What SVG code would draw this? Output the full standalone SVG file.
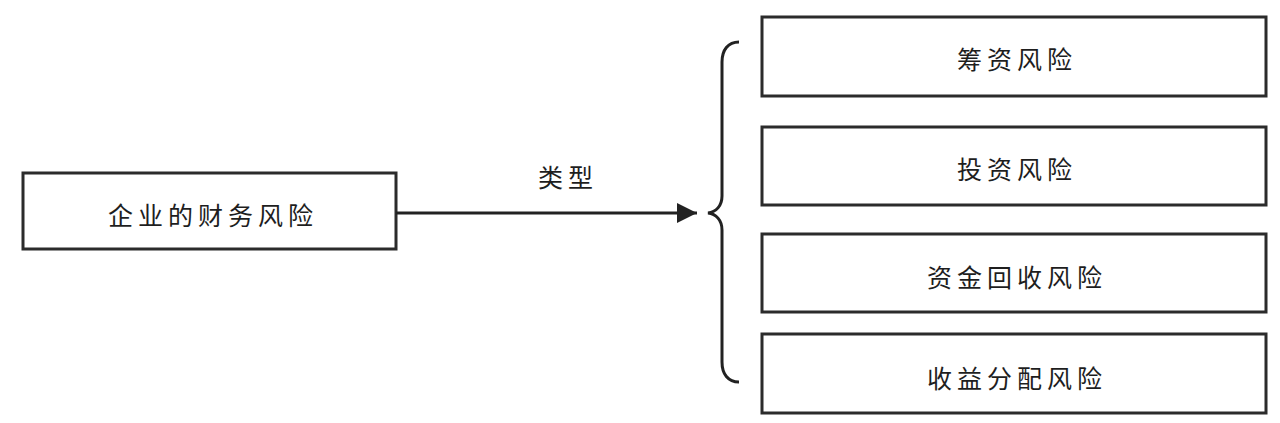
<svg xmlns="http://www.w3.org/2000/svg" width="1280" height="423" viewBox="0 0 1280 423">
<style>
.box{fill:#fff;stroke:#2b2b2b;stroke-width:3}
.t{font-family:"Noto Sans CJK SC","Noto Sans CJK JP",sans-serif;font-size:25px;fill:#1e1e1e;text-anchor:middle;dominant-baseline:central;letter-spacing:5px}
.c{fill:none;stroke:#222;stroke-width:3}
</style>
<defs>
<marker id="ah" markerWidth="20" markerHeight="20" refX="20" refY="10" orient="auto" markerUnits="userSpaceOnUse">
<path d="M0,0 L20,10 L0,20 Z" fill="#222"/>
</marker>
</defs>
<rect width="1280" height="423" fill="#fff"/>
<g id="n-root"><rect class="box" x="23" y="173" width="373" height="76"/><text class="t" x="213" y="214">企业的财务风险</text></g>
<g id="n1"><rect class="box" x="762" y="17" width="504" height="79"/><text class="t" x="1017" y="58">筹资风险</text></g>
<g id="n2"><rect class="box" x="762" y="127" width="504" height="78"/><text class="t" x="1017" y="168">投资风险</text></g>
<g id="n3"><rect class="box" x="762" y="234" width="504" height="78"/><text class="t" x="1017" y="276">资金回收风险</text></g>
<g id="n4"><rect class="box" x="762" y="334" width="504" height="79"/><text class="t" x="1017" y="377">收益分配风险</text></g>
<g id="connectors">
<line class="c" x1="396" y1="213" x2="697" y2="213" marker-end="url(#ah)"/>
<text class="t" x="568" y="176">类型</text>
<path class="c" d="M739,42 C728,42 722,50 722,62 L722,196 C722,206 716,212 708,213 C716,214 722,220 722,230 L722,362 C722,374 728,382 739,382"/>
</g>
</svg>
